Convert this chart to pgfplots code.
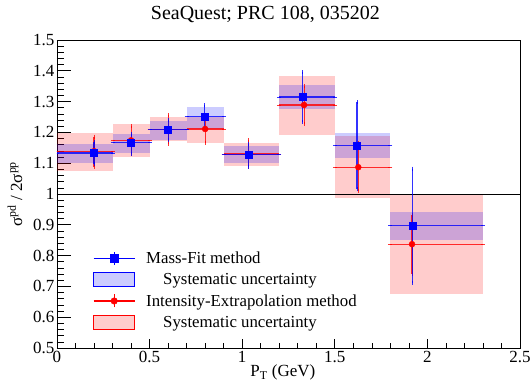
\documentclass[border=0pt]{standalone}
\usepackage{fontspec}
\setmainfont{Liberation Serif}
\usepackage{pgfplots}
\pgfplotsset{compat=1.18}
\newcommand{\fsz}{\rmfamily\fontsize{17}{20}\selectfont}
\newcommand{\flz}{\rmfamily\fontsize{16.8}{20}\selectfont}
\newcommand{\ftz}{\rmfamily\fontsize{20}{24}\selectfont}
\begin{document}
\begin{tikzpicture}
\useasboundingbox (-57pt,-35pt) rectangle (474pt,348pt);
\begin{axis}[
  at={(0pt,0pt)}, anchor=south west,
  scale only axis, width=463pt, height=308pt,
  xmin=0, xmax=2.5, ymin=0.5, ymax=1.5,
  xtick={0,0.5,...,2.5}, ytick={0.5,0.6,...,1.51},
  minor x tick num=4, minor y tick num=4,
  tick pos=left, tick align=inside,
  xtick style={/pgfplots/major tick length=9pt, black, line width=0.6pt},
  ytick style={/pgfplots/major tick length=14pt, black, line width=0.6pt},
  minor x tick style={/pgfplots/minor tick length=4.5pt},
  minor y tick style={/pgfplots/minor tick length=7pt},
  /pgf/number format/assume math mode=true,
  tick label style={font=\fsz},
  yticklabel style={xshift=1pt},
  axis line style={line width=0.8pt},
  every axis title shift=0pt,
  title={\ftz SeaQuest; PRC 108, 035202},
  title style={at={(axis description cs:0.45,1)}, anchor=base, yshift=20pt},
  xlabel={\fsz P\textsubscript{T} (GeV)},
  xlabel style={at={(axis description cs:0.488,0)}, anchor=base, yshift=-29pt},
  ylabel={\fsz σ\textsuperscript{pd} / 2σ\textsuperscript{pp}},
  ylabel style={at={(axis description cs:-0.0907,0.5)}, anchor=center},
  legend style={at={(axis cs:0.194,0.82)}, anchor=north west, draw=none, fill=none,
    font=\flz, row sep=4.5pt, inner sep=0pt,
    /tikz/every odd column/.append style={column sep=9pt}},
  legend cell align=left,
]
% red systematic boxes
\addplot[draw=none, fill=red, fill opacity=0.2, forget plot] coordinates {(0,1.076)(0.3,1.076)(0.3,1.198)(0,1.198)} -- cycle;
\addplot[draw=none, fill=red, fill opacity=0.2, forget plot] coordinates {(0.3,1.120)(0.5,1.120)(0.5,1.227)(0.3,1.227)} -- cycle;
\addplot[draw=none, fill=red, fill opacity=0.2, forget plot] coordinates {(0.5,1.172)(0.7,1.172)(0.7,1.249)(0.5,1.249)} -- cycle;
\addplot[draw=none, fill=red, fill opacity=0.2, forget plot] coordinates {(0.7,1.167)(0.9,1.167)(0.9,1.251)(0.7,1.251)} -- cycle;
\addplot[draw=none, fill=red, fill opacity=0.2, forget plot] coordinates {(0.9,1.091)(1.2,1.091)(1.2,1.165)(0.9,1.165)} -- cycle;
\addplot[draw=none, fill=red, fill opacity=0.2, forget plot] coordinates {(1.2,1.193)(1.5,1.193)(1.5,1.383)(1.2,1.383)} -- cycle;
\addplot[draw=none, fill=red, fill opacity=0.2, forget plot] coordinates {(1.5,0.988)(1.8,0.988)(1.8,1.188)(1.5,1.188)} -- cycle;
\addplot[draw=none, fill=red, fill opacity=0.2, forget plot] coordinates {(1.8,0.674)(2.3,0.674)(2.3,0.999)(1.8,0.999)} -- cycle;
% blue systematic boxes
\addplot[draw=none, fill=blue, fill opacity=0.2, forget plot] coordinates {(0,1.102)(0.3,1.102)(0.3,1.162)(0,1.162)} -- cycle;
\addplot[draw=none, fill=blue, fill opacity=0.2, forget plot] coordinates {(0.3,1.134)(0.5,1.134)(0.5,1.195)(0.3,1.195)} -- cycle;
\addplot[draw=none, fill=blue, fill opacity=0.2, forget plot] coordinates {(0.5,1.174)(0.7,1.174)(0.7,1.237)(0.5,1.237)} -- cycle;
\addplot[draw=none, fill=blue, fill opacity=0.2, forget plot] coordinates {(0.7,1.212)(0.9,1.212)(0.9,1.282)(0.7,1.282)} -- cycle;
\addplot[draw=none, fill=blue, fill opacity=0.2, forget plot] coordinates {(0.9,1.100)(1.2,1.100)(1.2,1.156)(0.9,1.156)} -- cycle;
\addplot[draw=none, fill=blue, fill opacity=0.2, forget plot] coordinates {(1.2,1.276)(1.5,1.276)(1.5,1.354)(1.2,1.354)} -- cycle;
\addplot[draw=none, fill=blue, fill opacity=0.2, forget plot] coordinates {(1.5,1.118)(1.8,1.118)(1.8,1.198)(1.5,1.198)} -- cycle;
\addplot[draw=none, fill=blue, fill opacity=0.2, forget plot] coordinates {(1.8,0.851)(2.3,0.851)(2.3,0.942)(1.8,0.942)} -- cycle;
% line at 1
\addplot[black, line width=0.8pt, forget plot] coordinates {(0,1)(2.5,1)};
% red points
\addplot[only marks, mark=*, mark size=3pt, color=red, forget plot,
  error bars/.cd, x dir=both, x explicit, y dir=both, y explicit,
  error bar style={line width=1.1pt, red, opacity=0.8},
  error mark options={mark size=2pt, line width=0.9pt, red}]
coordinates {
(0.2,1.139) += (0.1,0.047) -= (0.2,0.051)
(0.4,1.174) += (0.1,0.046) -= (0.1,0.045)
(0.6,1.209) += (0.1,0.047) -= (0.1,0.046)
(0.8,1.211) += (0.1,0.045) -= (0.1,0.045)
(1.035,1.130) += (0.165,0.044) -= (0.135,0.041)
(1.334,1.289) += (0.166,0.062) -= (0.134,0.062)
(1.627,1.087) += (0.173,0.078) -= (0.127,0.078)
(1.917,0.837) += (0.383,0.095) -= (0.117,0.097)
};
% blue points
\addplot[only marks, mark=square*, mark size=3.5pt, color=blue, forget plot,
  error bars/.cd, x dir=both, x explicit, y dir=both, y explicit,
  error bar style={line width=1.1pt, blue, opacity=0.8},
  error mark options={mark size=2pt, line width=0.9pt, blue}]
coordinates {
(0.2,1.133) += (0.1,0.035) -= (0.2,0.037)
(0.4,1.166) += (0.1,0.029) -= (0.1,0.036)
(0.6,1.209) += (0.1,0.031) -= (0.1,0.034)
(0.795,1.251) += (0.105,0.037) -= (0.095,0.039)
(1.035,1.127) += (0.165,0.034) -= (0.135,0.038)
(1.325,1.315) += (0.175,0.080) -= (0.125,0.081)
(1.62,1.157) += (0.18,0.141) -= (0.12,0.142)
(1.92,0.897) += (0.38,0.185) -= (0.12,0.185)
};
% legend
\addlegendimage{legend image code/.code={
  \draw[blue, line width=1.1pt] (0pt,0pt)--(41pt,0pt);
  \draw[blue, line width=1.1pt] (20.5pt,-6.5pt)--(20.5pt,6.5pt);
  \fill[blue] (16.5pt,-4pt) rectangle (24.5pt,4pt);}}
\addlegendentry{Mass-Fit method}
\addlegendimage{legend image code/.code={
  \fill[blue, fill opacity=0.2] (0pt,-7pt) rectangle (41pt,7pt);}}
\addlegendentry{\hspace*{17pt}Systematic uncertainty}
\addlegendimage{legend image code/.code={
  \draw[red, line width=1.1pt] (0pt,0pt)--(41pt,0pt);
  \draw[red, line width=1.1pt] (20.5pt,-6.5pt)--(20.5pt,6.5pt);
  \fill[red] (20.5pt,0pt) circle (3.3pt);}}
\addlegendentry{Intensity-Extrapolation method}
\addlegendimage{legend image code/.code={
  \fill[red, fill opacity=0.2] (0pt,-7pt) rectangle (41pt,7pt);}}
\addlegendentry{\hspace*{17pt}Systematic uncertainty}
\end{axis}
\end{tikzpicture}
\end{document}
